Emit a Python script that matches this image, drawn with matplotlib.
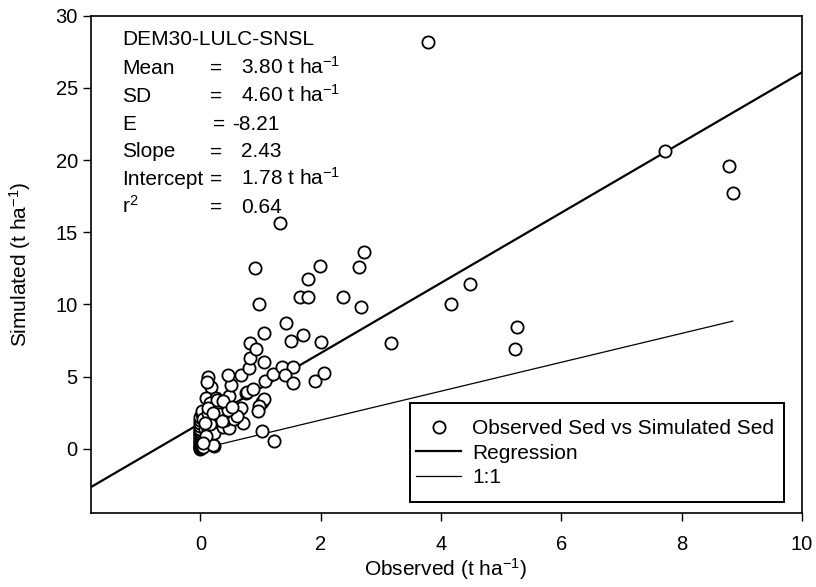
import numpy as np
import matplotlib
matplotlib.use("Agg")
import matplotlib.pyplot as plt
from matplotlib.lines import Line2D
from matplotlib.patches import Rectangle

plt.rcParams['font.family'] = ['Liberation Sans', 'DejaVu Sans']
plt.rcParams['mathtext.fontset'] = 'custom'
plt.rcParams['mathtext.rm'] = 'Liberation Sans'
plt.rcParams['mathtext.it'] = 'Liberation Sans:italic'
plt.rcParams['mathtext.default'] = 'rm'

# observed vs simulated sediment (t/ha)
observed = [
    0.0, 0.0, 0.0, 0.0, 0.0, 0.0, 0.0, 0.0, 0.0, 0.0, 0.0, 0.0,
    0.0, 0.0, 0.0, 0.0, 0.0, 0.0, 0.0, 0.0, 0.0, 0.02, 0.03, 0.05,
    0.05, 0.08, 0.1, 0.12, 0.15,
    0.23, 0.2, 0.2, 0.22, 0.15, 0.12, 0.18, 0.11, 0.1, 0.25, 0.15,
    0.28, 0.3, 0.27, 0.38, 0.48, 0.47, 0.48, 0.5, 0.45, 0.67, 0.6,
    0.63, 0.67, 0.7, 0.75, 0.77, 0.88, 0.8, 0.82, 0.82, 0.93, 1.05,
    1.05, 1.08, 1.02, 1.05, 0.97, 0.95, 1.02, 1.23, 1.2, 1.35, 1.53,
    1.4, 1.53, 1.9, 2.05, 1.5, 1.7, 2.0, 1.42, 0.98, 1.32, 0.9, 1.98,
    1.78, 1.65, 1.78, 2.37, 2.63, 2.72, 2.67, 3.17, 4.17, 4.48, 5.27,
    5.23, 3.78, 7.72, 8.78, 8.85,
    0.3, 0.4, 0.55, 0.35, 0.6, 0.45, 0.15, 0.12, 0.08, 0.1, 0.05,
    0.28, 0.13, 0.2, 0.37, 0.53,
]
simulated = [
    0.0, 0.05, 0.1, 0.15, 0.2, 0.3, 0.4, 0.5, 0.6, 0.7, 0.8, 0.9,
    1.0, 1.1, 1.2, 1.3, 1.4, 1.6, 1.8, 2.0, 2.2, 2.4, 2.6, 0.15,
    2.1, 1.4, 0.75, 1.3, 2.0,
    0.2, 0.3, 1.1, 1.1, 3.1, 5.0, 4.3, 4.6, 3.5, 3.5, 3.2,
    2.65, 2.65, 2.2, 1.5, 1.45, 3.0, 3.65, 4.4, 5.15, 5.1, 2.65,
    2.7, 2.85, 1.8, 3.9, 3.95, 4.15, 5.6, 6.3, 7.3, 6.95, 8.0,
    6.0, 4.7, 3.25, 3.45, 3.0, 2.6, 1.25, 0.55, 5.2, 5.7, 5.7,
    5.1, 4.55, 4.7, 5.25, 7.5, 7.9, 7.4, 8.75, 10.0, 15.65, 12.5, 12.7,
    11.8, 10.5, 10.5, 10.5, 12.6, 13.65, 9.8, 7.35, 10.0, 11.4, 8.45,
    6.93, 28.2, 20.6, 19.6, 17.7,
    2.4, 2.0, 2.1, 1.9, 2.3, 2.7, 1.7, 2.5, 1.8, 0.9, 0.4,
    3.4, 2.8, 2.5, 3.3, 2.9,
]

stat_names = ['Mean', 'SD', 'E', 'Slope', 'Intercept', 'r$^{2}$']
stat_values = ['3.80 t ha$^{-1}$', '4.60 t ha$^{-1}$', '-8.21', '2.43',
               '1.78 t ha$^{-1}$', '0.64']
slope = 2.43
intercept = 1.78

W, H = 816, 587
AX_L, AX_R, AX_T, AX_B = 91, 802, 15.7, 513.3
fig = plt.figure(figsize=(W / 100, H / 100), dpi=100)
ax = fig.add_axes([AX_L / W, 1 - AX_B / H, (AX_R - AX_L) / W, (AX_B - AX_T) / H])


def ax_frac(px, py):
    return (px - AX_L) / (AX_R - AX_L), (AX_B - py) / (AX_B - AX_T)


xmin, xmax = -1.82, 10
ymin, ymax = -4.46, 30
FS = 15

ax.plot(observed, simulated, 'o', ms=8.8, mfc='white', mec='black',
        mew=1.3, zorder=3)

xr = np.array([xmin, xmax])
ax.plot(xr, slope * xr + intercept, color='black', lw=1.6, zorder=2)
x11 = np.array([0, max(observed)])
ax.plot(x11, x11, color='black', lw=0.9, zorder=2)

ax.set_xlim(xmin, xmax)
ax.set_ylim(ymin, ymax)
ax.set_xticks([0, 2, 4, 6, 8, 10])
ax.set_yticks([0, 5, 10, 15, 20, 25, 30])
ax.tick_params(direction='out', length=5.5, width=1, labelsize=14.5,
               top=False, right=False)
ax.tick_params(axis='x', pad=10)
ax.tick_params(axis='y', pad=4)
for s in ax.spines.values():
    s.set_linewidth(1.2)

ax.set_xlabel('Observed (t ha$^{-1}$)', fontsize=FS)
ax.set_ylabel('Simulated (t ha$^{-1}$)', fontsize=FS)
ax.xaxis.set_label_coords(*ax_frac(446, 556))
ax.yaxis.set_label_coords(*ax_frac(33, 264.5))

handles = [
    Line2D([], [], ls='none', marker='o', ms=8.8, mfc='white', mec='black', mew=1.3),
    Line2D([], [], color='black', lw=1.6),
    Line2D([], [], color='black', lw=0.9),
]
leg = ax.legend(handles, ['Observed Sed vs Simulated Sed', 'Regression', '1:1'],
                loc='upper left', bbox_to_anchor=ax_frac(416, 419), fontsize=FS,
                frameon=False, borderpad=0, labelspacing=0.27,
                handlelength=2.16, handletextpad=0.55, borderaxespad=0)
x0, y0 = ax_frac(410, 502)
x1, y1 = ax_frac(784, 403)
ax.add_patch(Rectangle((x0, y0), x1 - x0, y1 - y0, transform=ax.transAxes,
                       fill=False, edgecolor='black', lw=1.4, zorder=5))


def fx(px):
    return px / W


def fy(py):
    return 1 - py / H


fig.text(fx(122), fy(45), 'DEM30-LULC-SNSL', fontsize=FS, va='baseline')
for i, (n, v) in enumerate(zip(stat_names, stat_values)):
    yb = fy(74 + 27.8 * i)
    fig.text(fx(122), yb, n, fontsize=FS, va='baseline')
    if n == 'E':
        fig.text(fx(219), yb, '=', fontsize=FS, va='baseline', ha='center')
        fig.text(fx(232), yb, v, fontsize=FS, va='baseline')
    else:
        fig.text(fx(216), yb, '=', fontsize=FS, va='baseline', ha='center')
        fig.text(fx(241), yb, v, fontsize=FS, va='baseline')

fig.savefig('out.png', dpi=100)
